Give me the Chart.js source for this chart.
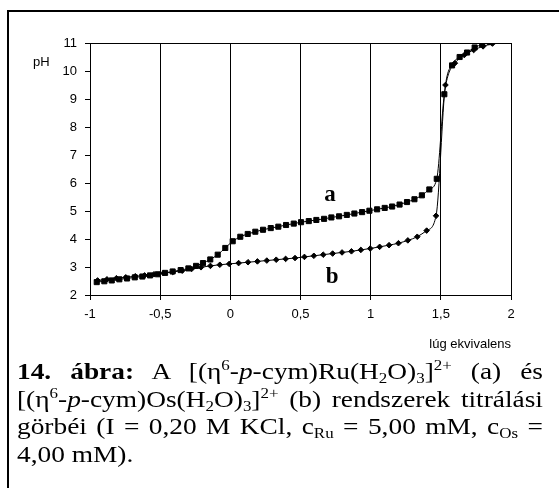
<!DOCTYPE html>
<html>
<head>
<meta charset="utf-8">
<script src="https://cdn.jsdelivr.net/npm/chart.js@4.4.1/dist/chart.umd.min.js"></script>
<style>
  html, body { margin:0; padding:0; background:#fff; }
  body { width:559px; height:488px; position:relative; overflow:hidden; }
  #frame { position:absolute; left:7px; top:10px; width:560px; height:490px; border-left:2px solid #000; border-top:2px solid #000; }
  #wrap { position:absolute; left:0; top:0; width:559px; height:360px; }
  .lbl { position:absolute; font-family:"Liberation Sans", Arial, sans-serif; font-size:13px; color:#000; white-space:nowrap; }
  #cap { position:absolute; left:17px; top:358px; width:442px; transform:scaleX(1.19); transform-origin:0 0;
         font-family:"Liberation Serif", "Times New Roman", serif; font-size:23px; line-height:27.7px; color:#000; }
  #cap div { text-align:justify; text-align-last:justify; white-space:nowrap; }
  #cap div.last { text-align-last:left; }
  sup, sub { font-size:0.62em; line-height:0; }
  sup { vertical-align:0.6em; }
  sub { vertical-align:-0.25em; }
</style>
</head>
<body>
<div id="frame"></div>
<div id="wrap"><canvas id="c"></canvas></div>
<div class="lbl" style="left:33px; top:54px;">pH</div>
<div class="lbl" style="right:48px; top:336px;">lúg ekvivalens</div>
<div id="cap">
  <div><b>14. ábra:</b> A [(η<sup>6</sup>-<i>p</i>-cym)Ru(H<sub>2</sub>O)<sub>3</sub>]<sup>2+</sup> (a) és</div>
  <div>[(η<sup>6</sup>-<i>p</i>-cym)Os(H<sub>2</sub>O)<sub>3</sub>]<sup>2+</sup> (b) rendszerek titrálási</div>
  <div>görbéi (I = 0,20 M KCl, c<sub>Ru</sub> = 5,00 mM, c<sub>Os</sub> =</div>
  <div class="last">4,00 mM).</div>
</div>
<script>
// curve a: Ru
const aX = [-0.952,-0.898,-0.845,-0.791,-0.736,-0.681,-0.627,-0.572,-0.517,-0.465,-0.411,-0.354,-0.299,-0.244,-0.195,-0.143,-0.090,-0.036,0.017,0.071,0.124,0.178,0.233,0.288,0.342,0.397,0.452,0.504,0.559,0.613,0.668,0.720,0.775,0.830,0.884,0.939,0.991,1.046,1.100,1.153,1.206,1.259,1.312,1.365,1.418,1.471,1.525,1.580,1.634,1.687,1.741,1.795,1.850];
const aY = [2.46,2.49,2.52,2.56,2.59,2.63,2.66,2.70,2.74,2.79,2.84,2.89,2.95,3.04,3.14,3.27,3.44,3.68,3.92,4.08,4.18,4.26,4.33,4.39,4.44,4.50,4.55,4.60,4.64,4.68,4.72,4.77,4.81,4.86,4.91,4.96,5.01,5.06,5.11,5.16,5.23,5.32,5.42,5.56,5.77,6.15,9.17,10.20,10.50,10.66,10.84,10.95,11.03];
// curve b: Os
const bX = [-0.946,-0.879,-0.812,-0.745,-0.678,-0.611,-0.544,-0.477,-0.410,-0.343,-0.276,-0.209,-0.142,-0.075,-0.008,0.059,0.126,0.193,0.260,0.327,0.394,0.461,0.528,0.595,0.662,0.729,0.796,0.863,0.930,0.997,1.064,1.131,1.198,1.265,1.332,1.399,1.466,1.533,1.600,1.667,1.734,1.801,1.868];
const bY = [2.52,2.56,2.60,2.63,2.67,2.70,2.74,2.78,2.82,2.87,2.93,2.99,3.04,3.08,3.11,3.14,3.17,3.20,3.23,3.26,3.29,3.32,3.36,3.40,3.44,3.48,3.52,3.56,3.61,3.66,3.72,3.78,3.85,3.95,4.08,4.30,4.83,9.50,10.28,10.57,10.75,10.88,10.98];
const xTicks = [-1,-0.5,0,0.5,1,1.5,2];
const yTicks = [2,3,4,5,6,7,8,9,10,11];
const curveLabels = [{text:'a', x:0.71, y:5.57}, {text:'b', x:0.725, y:2.64}];

const pts = (xs, ys) => xs.map((x, i) => ({x, y: ys[i]}));
const fmt = v => String(v).replace('.', ',');

const curveText = {
  id: 'curveText',
  afterDatasetsDraw(chart) {
    const {ctx, scales} = chart;
    ctx.save();
    ctx.font = 'bold 23px "Liberation Serif", "Times New Roman", serif';
    ctx.fillStyle = '#000';
    ctx.textAlign = 'center';
    ctx.textBaseline = 'middle';
    curveLabels.forEach(l => ctx.fillText(l.text, scales.x.getPixelForValue(l.x), scales.y.getPixelForValue(l.y)));
    ctx.restore();
  }
};

new Chart(document.getElementById('c'), {
  type: 'line',
  data: {
    datasets: [
      { label:'a', data: pts(aX, aY), borderColor:'#000', backgroundColor:'#000', borderWidth:1,
        pointStyle:'rect', pointRadius:3.6, pointBorderWidth:1, cubicInterpolationMode:'monotone', tension:0.4 },
      { label:'b', data: pts(bX, bY), borderColor:'#000', backgroundColor:'#000', borderWidth:1,
        pointStyle:'rectRot', pointRadius:2.8, pointBorderWidth:1, cubicInterpolationMode:'monotone', tension:0.4 }
    ]
  },
  options: {
    responsive: true,
    maintainAspectRatio: false,
    animation: false,
    layout: { padding: { left:20, top:43, right:48, bottom:35 } },
    plugins: { legend:{display:false}, tooltip:{enabled:false} },
    scales: {
      x: {
        type:'linear', min:-1, max:2,
        afterBuildTicks: s => { s.ticks = xTicks.map(v => ({value:v})); },
        afterFit: s => { s.height = 30; },
        grid: { color:'#000', tickColor:'#000', tickLength:5, lineWidth:1 },
        border: { color:'#000', width:1 },
        ticks: { color:'#000', padding:7, maxRotation:0, font:{family:'"Liberation Sans", Arial, sans-serif', size:13}, callback: v => fmt(v) }
      },
      y: {
        min:2, max:11,
        afterBuildTicks: s => { s.ticks = yTicks.map(v => ({value:v})); },
        afterFit: s => { s.width = 70; },
        grid: { color: c => c.tick && c.tick.value === 11 ? '#000' : 'rgba(0,0,0,0)', tickColor:'#000', tickLength:5, lineWidth:1 },
        border: { color:'#000', width:1 },
        ticks: { color:'#000', padding:8, font:{family:'"Liberation Sans", Arial, sans-serif', size:13} }
      }
    }
  },
  plugins: [curveText]
});
</script>
</body>
</html>
